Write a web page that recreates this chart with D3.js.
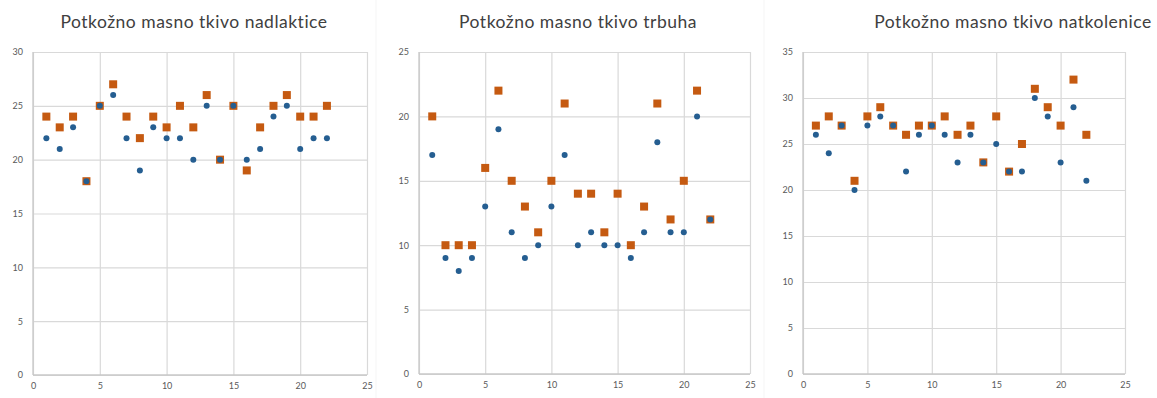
<!DOCTYPE html>
<html><head><meta charset="utf-8">
<script src="https://cdn.jsdelivr.net/npm/d3@7"></script>
<style>
body{margin:0;background:#fff;}
svg{display:block;}
.tick text{font-family:Lato,"Open Sans",sans-serif;font-size:9px;fill:#595959;}
</style></head>
<body>
<svg id="c" width="1157" height="398"></svg>
<script>
const xValues = d3.range(1, 23);
const titles = ["Potkožno masno tkivo nadlaktice", "Potkožno masno tkivo trbuha", "Potkožno masno tkivo natkolenice"];
const yMaxes = [30, 25, 35];
const xTicks = [0, 5, 10, 15, 20, 25];
// series 1 (orange squares) and series 2 (blue circles) per panel
const nadlakticeOrange = [24,23,24,18,25,27,24,22,24,23,25,23,26,20,25,19,23,25,26,24,24,25];
const nadlakticeBlue   = [22,21,23,18,25,26,22,19,23,22,22,20,25,20,25,20,21,24,25,21,22,22];
const trbuhaOrange = [20,10,10,10,16,22,15,13,11,15,21,14,14,11,14,10,13,21,12,15,22,12];
const trbuhaBlue   = [17,9,8,9,13,19,11,9,10,13,17,10,11,10,10,9,11,18,11,11,20,12];
const natkoleniceOrange = [27,28,27,21,28,29,27,26,27,27,28,26,27,23,28,22,25,31,29,27,32,26];
const natkoleniceBlue   = [26,24,27,20,27,28,27,22,26,27,26,23,26,23,25,22,22,30,28,23,29,21];

const orangeSeries = [nadlakticeOrange, trbuhaOrange, natkoleniceOrange];
const blueSeries = [nadlakticeBlue, trbuhaBlue, natkoleniceBlue];

const layout = [
  {x0:33, x1:367, y0:52, y1:375, tx:194},
  {x0:419, x1:750, y0:52, y1:374, tx:578},
  {x0:803, x1:1125, y0:52, y1:374, tx:1013}
];
const orange = "#C55A11", blue = "#255E91", grid = "#d9d9d9";

const svg = d3.select("#c");
// faint panel separators
[376, 764].forEach(x => svg.append("line").attr("x1",x).attr("x2",x).attr("y1",0).attr("y2",398)
  .attr("stroke","#f5f5f5").attr("stroke-width",1));

layout.forEach((L, i) => {
  const x = d3.scaleLinear().domain([0, 25]).range([L.x0, L.x1]);
  const y = d3.scaleLinear().domain([0, yMaxes[i]]).range([L.y1, L.y0]);
  const g = svg.append("g");
  const yTicks = d3.range(0, yMaxes[i] + 1, 5);

  g.append("g").attr("transform", `translate(0,${L.y1})`)
    .call(d3.axisBottom(x).tickValues(xTicks).tickSize(-(L.y1 - L.y0)).tickPadding(8))
    .call(a => a.select(".domain").remove())
    .call(a => a.selectAll(".tick line").attr("stroke", grid).attr("stroke-width", 1.2));
  g.append("g").attr("transform", `translate(${L.x0},0)`)
    .call(d3.axisLeft(y).tickValues(yTicks).tickSize(-(L.x1 - L.x0)).tickPadding(10))
    .call(a => a.select(".domain").remove())
    .call(a => a.selectAll(".tick line").attr("stroke", grid).attr("stroke-width", 1.2));
  // axis lines
  g.append("line").attr("x1", L.x0).attr("x2", L.x1).attr("y1", L.y1).attr("y2", L.y1).attr("stroke", "#c8c8c8").attr("stroke-width", 1.3);
  g.append("line").attr("x1", L.x0).attr("x2", L.x0).attr("y1", L.y0).attr("y2", L.y1).attr("stroke", "#c8c8c8").attr("stroke-width", 1.3);

  g.append("text").attr("x", L.tx).attr("y", 28).attr("text-anchor", "middle")
    .attr("font-family", "Lato,'Open Sans',sans-serif").attr("font-size", 17.5)
    .attr("letter-spacing", 0.5).attr("fill", "#404040")
    .text(titles[i]);

  g.selectAll("rect.o").data(orangeSeries[i]).join("rect")
    .attr("x", (d, j) => x(xValues[j]) - 4).attr("y", d => y(d) - 4)
    .attr("width", 8).attr("height", 8).attr("fill", orange);
  g.selectAll("circle.b").data(blueSeries[i]).join("circle")
    .attr("cx", (d, j) => x(xValues[j])).attr("cy", d => y(d)).attr("r", 3).attr("fill", blue);
});
</script>
</body></html>
